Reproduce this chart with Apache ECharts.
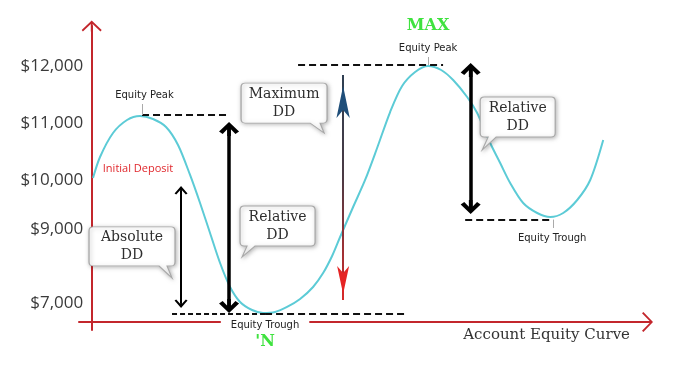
<!DOCTYPE html>
<html><head><meta charset="utf-8">
<script src="https://cdn.jsdelivr.net/npm/echarts@6/dist/echarts.min.js"></script>
<style>html,body{margin:0;padding:0;background:#fff}#c{width:678px;height:368px}</style>
</head><body><div id="c"></div>
<script>
// ---------------- data ----------------
const periods = [4.88,7.32,11.85,16.72,21.25,25.78,30.31,34.49,38.68,42.16,45.64,49.13,52.61,56.10,60.28,64.11,68.29,72.47,77.00,81.53,85.02,88.15,90.94,95.47,99.65,103.83,108.36,112.54,117.07,121.60,126.13,130.31,135.19,138.68,143.21,146.69,150.17,154.70,159.58,164.11,168.64,173.52,178.05,182.58];
const equity  = [10035,10404,10825,11053,11123,11070,10930,10614,10088,9596,9070,8544,8123,7860,7719,7667,7684,7772,7912,8123,8368,8667,9000,9526,10000,10561,11193,11649,11895,12000,11930,11754,11456,11175,10649,10298,9947,9596,9421,9351,9421,9649,10000,10702];
const yTickLabels = ['$7,000','$9,000','$10,000','$11,000','$12,000'];
const yTickLevels = [7842, 9140, 10000, 11000, 12000];
const xAxisTitle = 'Account Equity Curve';
const initialDeposit = 10000;
const depositSpan = [4.88, 202.8];
const depositLabel = ['Initial Deposit', 20.56, 10193];
// dashed peak / trough levels: [xStart, xEnd, level]
const peak1Level = [21.95, 52.6, 11140];
const maxPeakLevel = [76.3, 126.8, 12018];
const trough1Short = [32.4, 64.8, 7649];
const trough1Long = [64.8, 113.6, 7649];
const trough2Level = [134.5, 165.2, 9298];
// leader ticks: [x, from, to]
const leaders = [[21.95, 11333, 11140],[121.6, 12158, 12018],[165.2, 9298, 9158]];
// drawdown arrows: [x, top, bottom]
const absoluteDD = [35.54, 9807, 7842];
const relativeDD1 = [52.26, 10895, 7789];
const relativeDD2 = [136.41, 11930, 9526];
const maxDDShaft = [91.99, 11842, 7895];
const maxDDHeadTop = [91.99, 11649];
const maxDDHeadBottom = [91.99, 8000];
// text annotations
const peakLabels = [['Equity Peak', 22.8, 11491]];
const maxLabel = ['MAX', 'Equity Peak', 121.6, 12158];
const trough1Label = ['Equity Trough', "'N", 64.8, 7579];
const trough2Label = ['Equity Trough', 164.8, 8982];
const calloutTexts = ['Maximum\nDD','Relative\nDD','Absolute\nDD','Relative\nDD'];
const calloutX = [71.43, 69.16, 18.47, 152.79];
const calloutY = [11263, 9096, 8728, 10991];

// ---------------- styles ----------------
const AXIS_RED = '#c3262c';
const CURVE = '#5ccbd6';
function bubble(w,h,t1,t2,tx,ty){
  const r=4;
  return `path://M${r},0 H${w-r} Q${w},0 ${w},${r} V${h-r} Q${w},${h} ${w-r},${h} H${t2} L${tx},${ty} L${t1},${h} H${r} Q0,${h} 0,${h-r} V${r} Q0,0 ${r},0 Z`;
}
const bubbleShapes = [
  {path: bubble(86,40,69,79,83,50), size:[86,50], off:-5},
  {path: bubble(75,40,7,15,2,51), size:[75,51], off:-5.5},
  {path: bubble(86,39,70,78,83,51), size:[86,51], off:-6},
  {path: bubble(75,40,8,16,2,53), size:[75,53], off:-6.5}
];
const chevThin = 'path://M5,0 L10,7.4 L8.7,8.6 L5.7,4.3 L5.7,10 L4.3,10 L4.3,4.3 L1.3,8.6 L0,7.4 Z';
const chevThick = 'path://M5,0 L10,6.8 L8.2,8.6 L5.9,5.2 L5.9,10 L4.1,10 L4.1,5.2 L1.8,8.6 L0,6.8 Z';
const axisChev = 'path://M10,0 L20,9.6 L18.8,11 L10.9,3.4 L10.9,11 L9.1,11 L9.1,3.4 L1.2,11 L0,9.6 Z';

function hLine(a, style){ return [{coord:[a[0],a[2]], lineStyle:style},{coord:[a[1],a[2]]}]; }
function vArrow(a, sym, size, width, color){
  return [{coord:[a[0],a[1]], symbol:sym, symbolSize:size, lineStyle:{color:color||'#000', width:width, type:'solid'}},
          {coord:[a[0],a[2]], symbol:sym, symbolSize:size}];
}
const dashStyle = {color:'#111', width:2, type:[7,4]};
const dashShort = {color:'#111', width:2, type:[5,3]};

const markLines = [
  [{coord:[depositSpan[0], initialDeposit], lineStyle:{color:'#222', width:2, type:[2,4]}},
   {coord:[depositSpan[1], initialDeposit]}],
  hLine(peak1Level, dashStyle),
  hLine(maxPeakLevel, dashStyle),
  hLine(trough1Short, dashShort),
  hLine(trough1Long, dashStyle),
  hLine(trough2Level, dashStyle),
  ...leaders.map(l => [{coord:[l[0],l[1]], lineStyle:{color:'#aaa', width:1, type:'solid'}},{coord:[l[0],l[2]]}]),
  vArrow(absoluteDD, chevThin, [13,10], 2),
  vArrow(relativeDD1, chevThick, [20,14], 3.5),
  vArrow(relativeDD2, chevThick, [20,14], 3.5),
  [{coord:[maxDDShaft[0],maxDDShaft[1]], lineStyle:{width:2, type:'solid',
     color:new echarts.graphic.LinearGradient(0,0,0,1,[{offset:0,color:'#2e3f52'},{offset:0.45,color:'#4a3a44'},{offset:1,color:'#d92a2a'}])}},
   {coord:[maxDDShaft[0],maxDDShaft[2]]}]
];

const smallText = {fontFamily:'DejaVu Sans', fontSize:10, color:'#222'};
const greenText = {fontFamily:'DejaVu Serif', fontWeight:'bold', fontSize:16, color:'#3fe23f', align:'center'};
const markPoints = [
  {coord:[depositLabel[1], depositLabel[2]], symbol:'circle', symbolSize:0,
   label:{show:true, position:'inside', formatter:depositLabel[0], fontFamily:'Open Sans', fontSize:11, color:'#e0282d'}},
  ...peakLabels.map(p => ({coord:[p[1],p[2]], symbol:'circle', symbolSize:0,
      label:{show:true, position:'inside', formatter:p[0], ...smallText}})),
  {coord:[maxLabel[2], maxLabel[3]], symbol:'circle', symbolSize:0,
   label:{show:true, position:'top', distance:0, formatter:'{m|'+maxLabel[0]+'}\n{e|'+maxLabel[1]+'}',
     rich:{m:{...greenText, lineHeight:26}, e:{...smallText, lineHeight:18, align:'center'}}}},
  {coord:[trough1Label[2], trough1Label[3]], symbol:'circle', symbolSize:0,
   label:{show:true, position:'bottom', distance:0, formatter:'{t|'+trough1Label[0]+'}\n{g|'+trough1Label[1]+'}',
     rich:{t:{...smallText, lineHeight:14, padding:[4,10], backgroundColor:'#fff', align:'center'},
           g:{...greenText, lineHeight:20}}}},
  {coord:[trough2Label[1], trough2Label[2]], symbol:'circle', symbolSize:0,
   label:{show:true, position:'inside', formatter:trough2Label[0], ...smallText}},
  {coord:maxDDHeadTop, symbol:'arrow', symbolSize:[10,32], itemStyle:{color:'#1f4e79'}},
  {coord:maxDDHeadBottom, symbol:'arrow', symbolSize:[9,28], symbolRotate:180, itemStyle:{color:'#e52424'}},
  ...calloutTexts.map((t,i) => ({coord:[calloutX[i], calloutY[i]], symbol:bubbleShapes[i].path, symbolSize:bubbleShapes[i].size,
     itemStyle:{color:'#fff', borderColor:'#a8a8a8', borderWidth:1, shadowBlur:4, shadowColor:'rgba(0,0,0,0.28)', shadowOffsetX:1, shadowOffsetY:1},
     label:{show:true, position:'inside', offset:[0,bubbleShapes[i].off], formatter:t,
       fontFamily:'DejaVu Serif', fontSize:14, lineHeight:18, color:'#2e2e2e', align:'center'}}))
];

const chart = echarts.init(document.getElementById('c'), null, {renderer:'canvas'});
chart.setOption({
  animation:false,
  grid:{left:79, right:30.5, top:26, bottom:38, containLabel:false, outerBoundsMode:'none'},
  xAxis:{type:'value', min:0, max:198, offset:-8,
    axisLine:{onZero:false, lineStyle:{color:AXIS_RED, width:2}, symbol:['none', axisChev], symbolSize:[21,11]},
    axisTick:{show:false}, axisLabel:{show:false}, splitLine:{show:false},
    name:xAxisTitle, nameLocation:'end', nameGap:-17.5,
    nameTextStyle:{fontFamily:'DejaVu Serif', fontSize:15, color:'#333', align:'right', verticalAlign:'top', padding:[6,0,0,0]}},
  yAxis:{type:'value', min:7368, max:12702, offset:-12.7,
    axisLine:{show:true, onZero:false, lineStyle:{color:AXIS_RED, width:2}, symbol:['none', axisChev], symbolSize:[21,11]},
    axisTick:{show:false}, splitLine:{show:false},
    axisLabel:{customValues:yTickLevels, margin:8.5, fontFamily:'Open Sans', fontSize:17, color:'#3a3a3a',
      formatter:v => yTickLabels[yTickLevels.indexOf(v)]}},
  series:[{
    type:'line', data:periods.map((x,i)=>[x, equity[i]]), smooth:0.3, symbol:'none', clip:false, silent:true,
    lineStyle:{color:CURVE, width:2},
    markLine:{silent:true, symbol:['none','none'], label:{show:false}, data:markLines, animation:false},
    markPoint:{silent:true, data:markPoints, animation:false}
  }]
});
</script></body></html>
